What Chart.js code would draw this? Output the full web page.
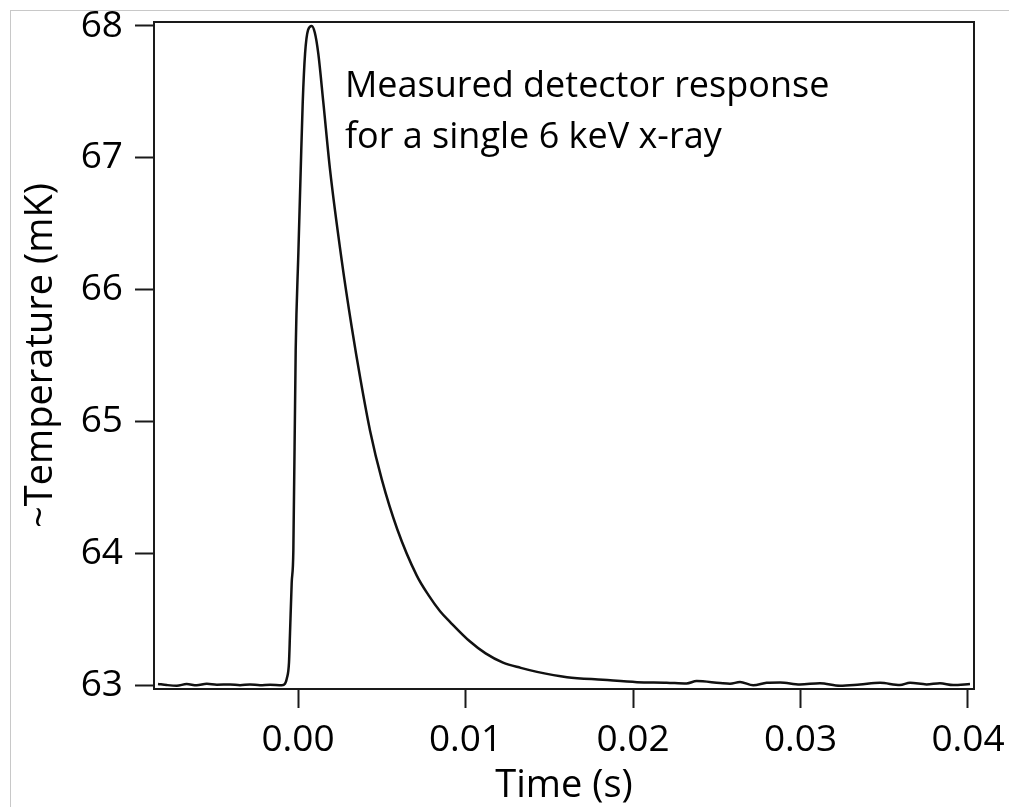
<!DOCTYPE html>
<html lang="en">
  <head>
    <meta charset="UTF-8" />
    <title>Detector response</title>
    <script src="https://cdn.jsdelivr.net/npm/chart.js@4.4.1/dist/chart.umd.min.js"></script>
    <style>
      html,
      body {
        margin: 0;
        padding: 0;
        background: #fff;
      }
      .frame {
        position: absolute;
        left: 10px;
        top: 10px;
        right: 0;
        bottom: 0;
        border-left: 1px solid #c8c8c8;
        border-top: 1px solid #c8c8c8;
      }
      .chart-container {
        position: absolute;
        left: 0;
        top: 0;
        width: 1009px;
        height: 807px;
      }
    </style>
  </head>
  <body>
    <div class="frame"></div>
    <div class="chart-container">
      <canvas id="chart-response" width="1009" height="807"></canvas>
    </div>
    <script>
      // time in seconds
      const times = [
        -0.00836, -0.00784, -0.00724, -0.00665, -0.00605, -0.00545, -0.00485,
        -0.00406, -0.00346, -0.00287, -0.00227, -0.00167, -0.00097, -0.00078,
        -0.00067, -0.00054, -0.00048, -0.00038, -0.00028, -0.00014, 0.00002,
        0.00016, 0.00028, 0.00042, 0.0006, 0.00082, 0.001, 0.00121, 0.00151,
        0.00191, 0.00261, 0.0032, 0.00374, 0.0043, 0.005, 0.00593, 0.00709,
        0.0078, 0.00848, 0.00907, 0.01027, 0.0112, 0.01224, 0.0133, 0.01427,
        0.01606, 0.0182, 0.02024, 0.022, 0.0232, 0.0238, 0.0252, 0.02579,
        0.02639, 0.02718, 0.02798, 0.02878, 0.02997, 0.03116, 0.03236, 0.03355,
        0.03475, 0.03594, 0.03654, 0.03753, 0.03833, 0.03912, 0.04012,
      ];
      // ~temperature in mK
      const temps = [
        63.008, 63.0, 62.995, 63.008, 62.998, 63.01, 63.003, 63.005, 62.998,
        63.005, 62.998, 63.003, 62.998, 63.01, 63.05, 63.17, 63.39, 63.77,
        64.02, 65.54, 66.28, 66.91, 67.42, 67.79, 67.97, 68.0, 67.95, 67.79,
        67.42, 66.91, 66.22, 65.72, 65.31, 64.93, 64.56, 64.18, 63.83, 63.68,
        63.56, 63.48, 63.33, 63.24, 63.17, 63.13, 63.1, 63.06, 63.04, 63.022,
        63.018, 63.012, 63.03, 63.015, 63.01, 63.023, 62.998, 63.017, 63.02,
        63.005, 63.013, 62.995, 63.005, 63.017, 63.0, 63.017, 63.005, 63.013,
        63.0, 63.008,
      ];

      const xTicks = [0.0, 0.01, 0.02, 0.03, 0.04];
      const yTicks = [63, 64, 65, 66, 67, 68];

      const noteLines = ["Measured detector response", "for a single 6 keV x-ray"];
      const noteAt = [0.0028, 67.46];

      const fontFamily = "'Open Sans', 'DejaVu Sans', sans-serif";

      const frameBox = {
        id: "frameBox",
        afterDatasetsDraw(chart) {
          const { ctx, chartArea: a } = chart;
          ctx.save();
          ctx.strokeStyle = "#1a1a1a";
          ctx.lineWidth = 2;
          ctx.strokeRect(a.left, a.top, a.right - a.left, a.bottom - a.top);
          ctx.restore();
        },
      };

      const noteText = {
        id: "noteText",
        afterDraw(chart) {
          const { ctx } = chart;
          const px = chart.scales.x.getPixelForValue(noteAt[0]);
          const py = chart.scales.y.getPixelForValue(noteAt[1]);
          ctx.save();
          ctx.font = "36px " + fontFamily;
          ctx.fillStyle = "#000";
          ctx.textAlign = "left";
          ctx.textBaseline = "alphabetic";
          noteLines.forEach((s, i) => ctx.fillText(s, px, py + i * 51));
          ctx.restore();
        },
      };

      const ctx = document.getElementById("chart-response").getContext("2d");

      new Chart(ctx, {
        type: "line",
        data: {
          datasets: [
            {
              data: times.map((t, i) => ({ x: t, y: temps[i] })),
              borderColor: "#111",
              borderWidth: 2.5,
              pointRadius: 0,
              cubicInterpolationMode: "monotone",
              fill: false,
            },
          ],
        },
        options: {
          responsive: false,
          animation: false,
          layout: { padding: { top: 22, right: 35, left: 0, bottom: 0 } },
          plugins: {
            legend: { display: false },
            tooltip: { enabled: false },
          },
          scales: {
            x: {
              type: "linear",
              min: -0.0086,
              max: 0.04036,
              afterBuildTicks: (s) => {
                s.ticks = xTicks.map((v) => ({ value: v }));
              },
              afterFit: (s) => {
                s.height = 118;
                s.paddingLeft = 0;
                s.paddingRight = 0;
              },
              grid: {
                drawOnChartArea: false,
                drawTicks: true,
                tickLength: 19,
                tickWidth: 2,
                tickColor: "#1a1a1a",
              },
              border: { display: false },
              ticks: {
                color: "#000",
                padding: 10,
                maxRotation: 0,
                font: { family: fontFamily, size: 37 },
                callback: (v) => Number(v).toFixed(2),
              },
              title: {
                display: true,
                text: "Time (s)",
                color: "#000",
                padding: 0,
                font: { family: fontFamily, size: 38, lineHeight: 1.1 },
              },
            },
            y: {
              min: 62.97,
              max: 68.03,
              afterBuildTicks: (s) => {
                s.ticks = yTicks.map((v) => ({ value: v }));
              },
              afterFit: (s) => {
                s.width = 154;
                s.paddingTop = 0;
                s.paddingBottom = 0;
              },
              grid: {
                drawOnChartArea: false,
                drawTicks: true,
                tickLength: 19,
                tickWidth: 2,
                tickColor: "#1a1a1a",
              },
              border: { display: false },
              ticks: {
                color: "#000",
                padding: 12,
                font: { family: fontFamily, size: 37 },
                callback: (v) => Number(v).toFixed(0),
              },
              title: {
                display: true,
                text: "~Temperature (mK)",
                color: "#000",
                padding: { top: 18 },
                font: { family: fontFamily, size: 38, lineHeight: 1.2 },
              },
            },
          },
        },
        plugins: [frameBox, noteText],
      });
    </script>
  </body>
</html>
